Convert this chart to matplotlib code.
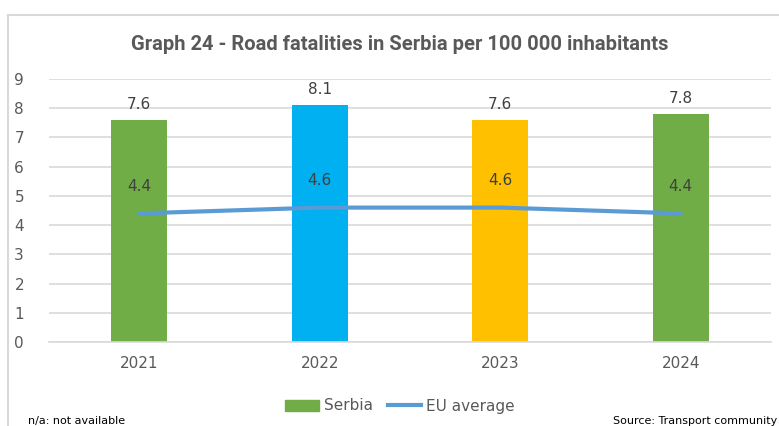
import matplotlib
matplotlib.use("Agg")
import matplotlib.pyplot as plt
from matplotlib.patches import Rectangle
from matplotlib.lines import Line2D
import numpy as np

years = ["2021", "2022", "2023", "2024"]
serbia = [7.6, 8.1, 7.6, 7.8]
eu_avg = [4.4, 4.6, 4.6, 4.4]
bar_colors = ["#70AD47", "#00B0F0", "#FFC000", "#70AD47"]

fig = plt.figure(figsize=(7.79, 4.26), dpi=100)
ax = fig.add_axes([49 / 779, 1 - 342 / 426, (771 - 49) / 779, (342 - 79) / 426])

# light frame lines (top and left edge of the chart box)
fig.lines.append(Line2D([8 / 779, 1.0], [1 - 15 / 426, 1 - 15 / 426], transform=fig.transFigure,
                        color="#D9D9D9", linewidth=1.5))
fig.lines.append(Line2D([8 / 779, 8 / 779], [1 - 15 / 426, 0.0], transform=fig.transFigure,
                        color="#D9D9D9", linewidth=1.5))

x = np.arange(len(years))
ax.bar(x, serbia, width=0.31, color=bar_colors, zorder=2)
ax.plot(x, eu_avg, color="#5B9BD5", linewidth=3, solid_capstyle="round", zorder=3)

for xi, v in zip(x, serbia):
    ax.annotate(f"{v}", (xi, v), xytext=(0, 6), textcoords="offset points",
                ha="center", va="bottom", fontsize=11, color="#404040")
for xi, v in zip(x, eu_avg):
    ax.annotate(f"{v}", (xi, v), xytext=(0, 14), textcoords="offset points",
                ha="center", va="bottom", fontsize=11, color="#404040", zorder=4)

ax.set_xlim(-0.5, 3.5)
ax.set_ylim(0, 9)
ax.set_yticks(range(10))
ax.set_xticks(x)
ax.set_xticklabels(years)
ax.yaxis.grid(True, color="#D9D9D9", linewidth=1.2, zorder=0)
ax.set_axisbelow(True)
for s in ["top", "right", "left"]:
    ax.spines[s].set_visible(False)
ax.spines["bottom"].set_color("#D9D9D9")
ax.spines["bottom"].set_linewidth(1.2)
ax.tick_params(axis="both", length=0, labelsize=11, labelcolor="#595959")
ax.tick_params(axis="y", pad=18)
ax.tick_params(axis="x", pad=10)

fig.text(400 / 779, 1 - 44 / 426, "Graph 24 - Road fatalities in Serbia per 100 000 inhabitants",
         ha="center", va="center", fontsize=14.5, fontweight="bold", color="#595959",
         family=["Roboto", "DejaVu Sans"])

# legend
handles = [Rectangle((0, 0), 1, 1, color="#70AD47"),
           Line2D([0], [0], color="#5B9BD5", linewidth=3)]
fig.legend(handles, ["Serbia", "EU average"], loc="center", bbox_to_anchor=(400 / 779, 1 - 406 / 426),
           ncol=2, frameon=False, fontsize=11, labelcolor="#595959",
           handlelength=2.2, handletextpad=0.3, columnspacing=1.0)

fig.text(28 / 779, 1 - 421 / 426, "n/a: not available", ha="left", va="center",
         fontsize=8, color="#000000", family=["Liberation Sans Narrow", "DejaVu Sans"])
fig.text(777 / 779, 1 - 421 / 426, "Source: Transport community", ha="right", va="center",
         fontsize=8, color="#000000", family=["Liberation Sans Narrow", "DejaVu Sans"])

fig.savefig("out.png", dpi=100)
